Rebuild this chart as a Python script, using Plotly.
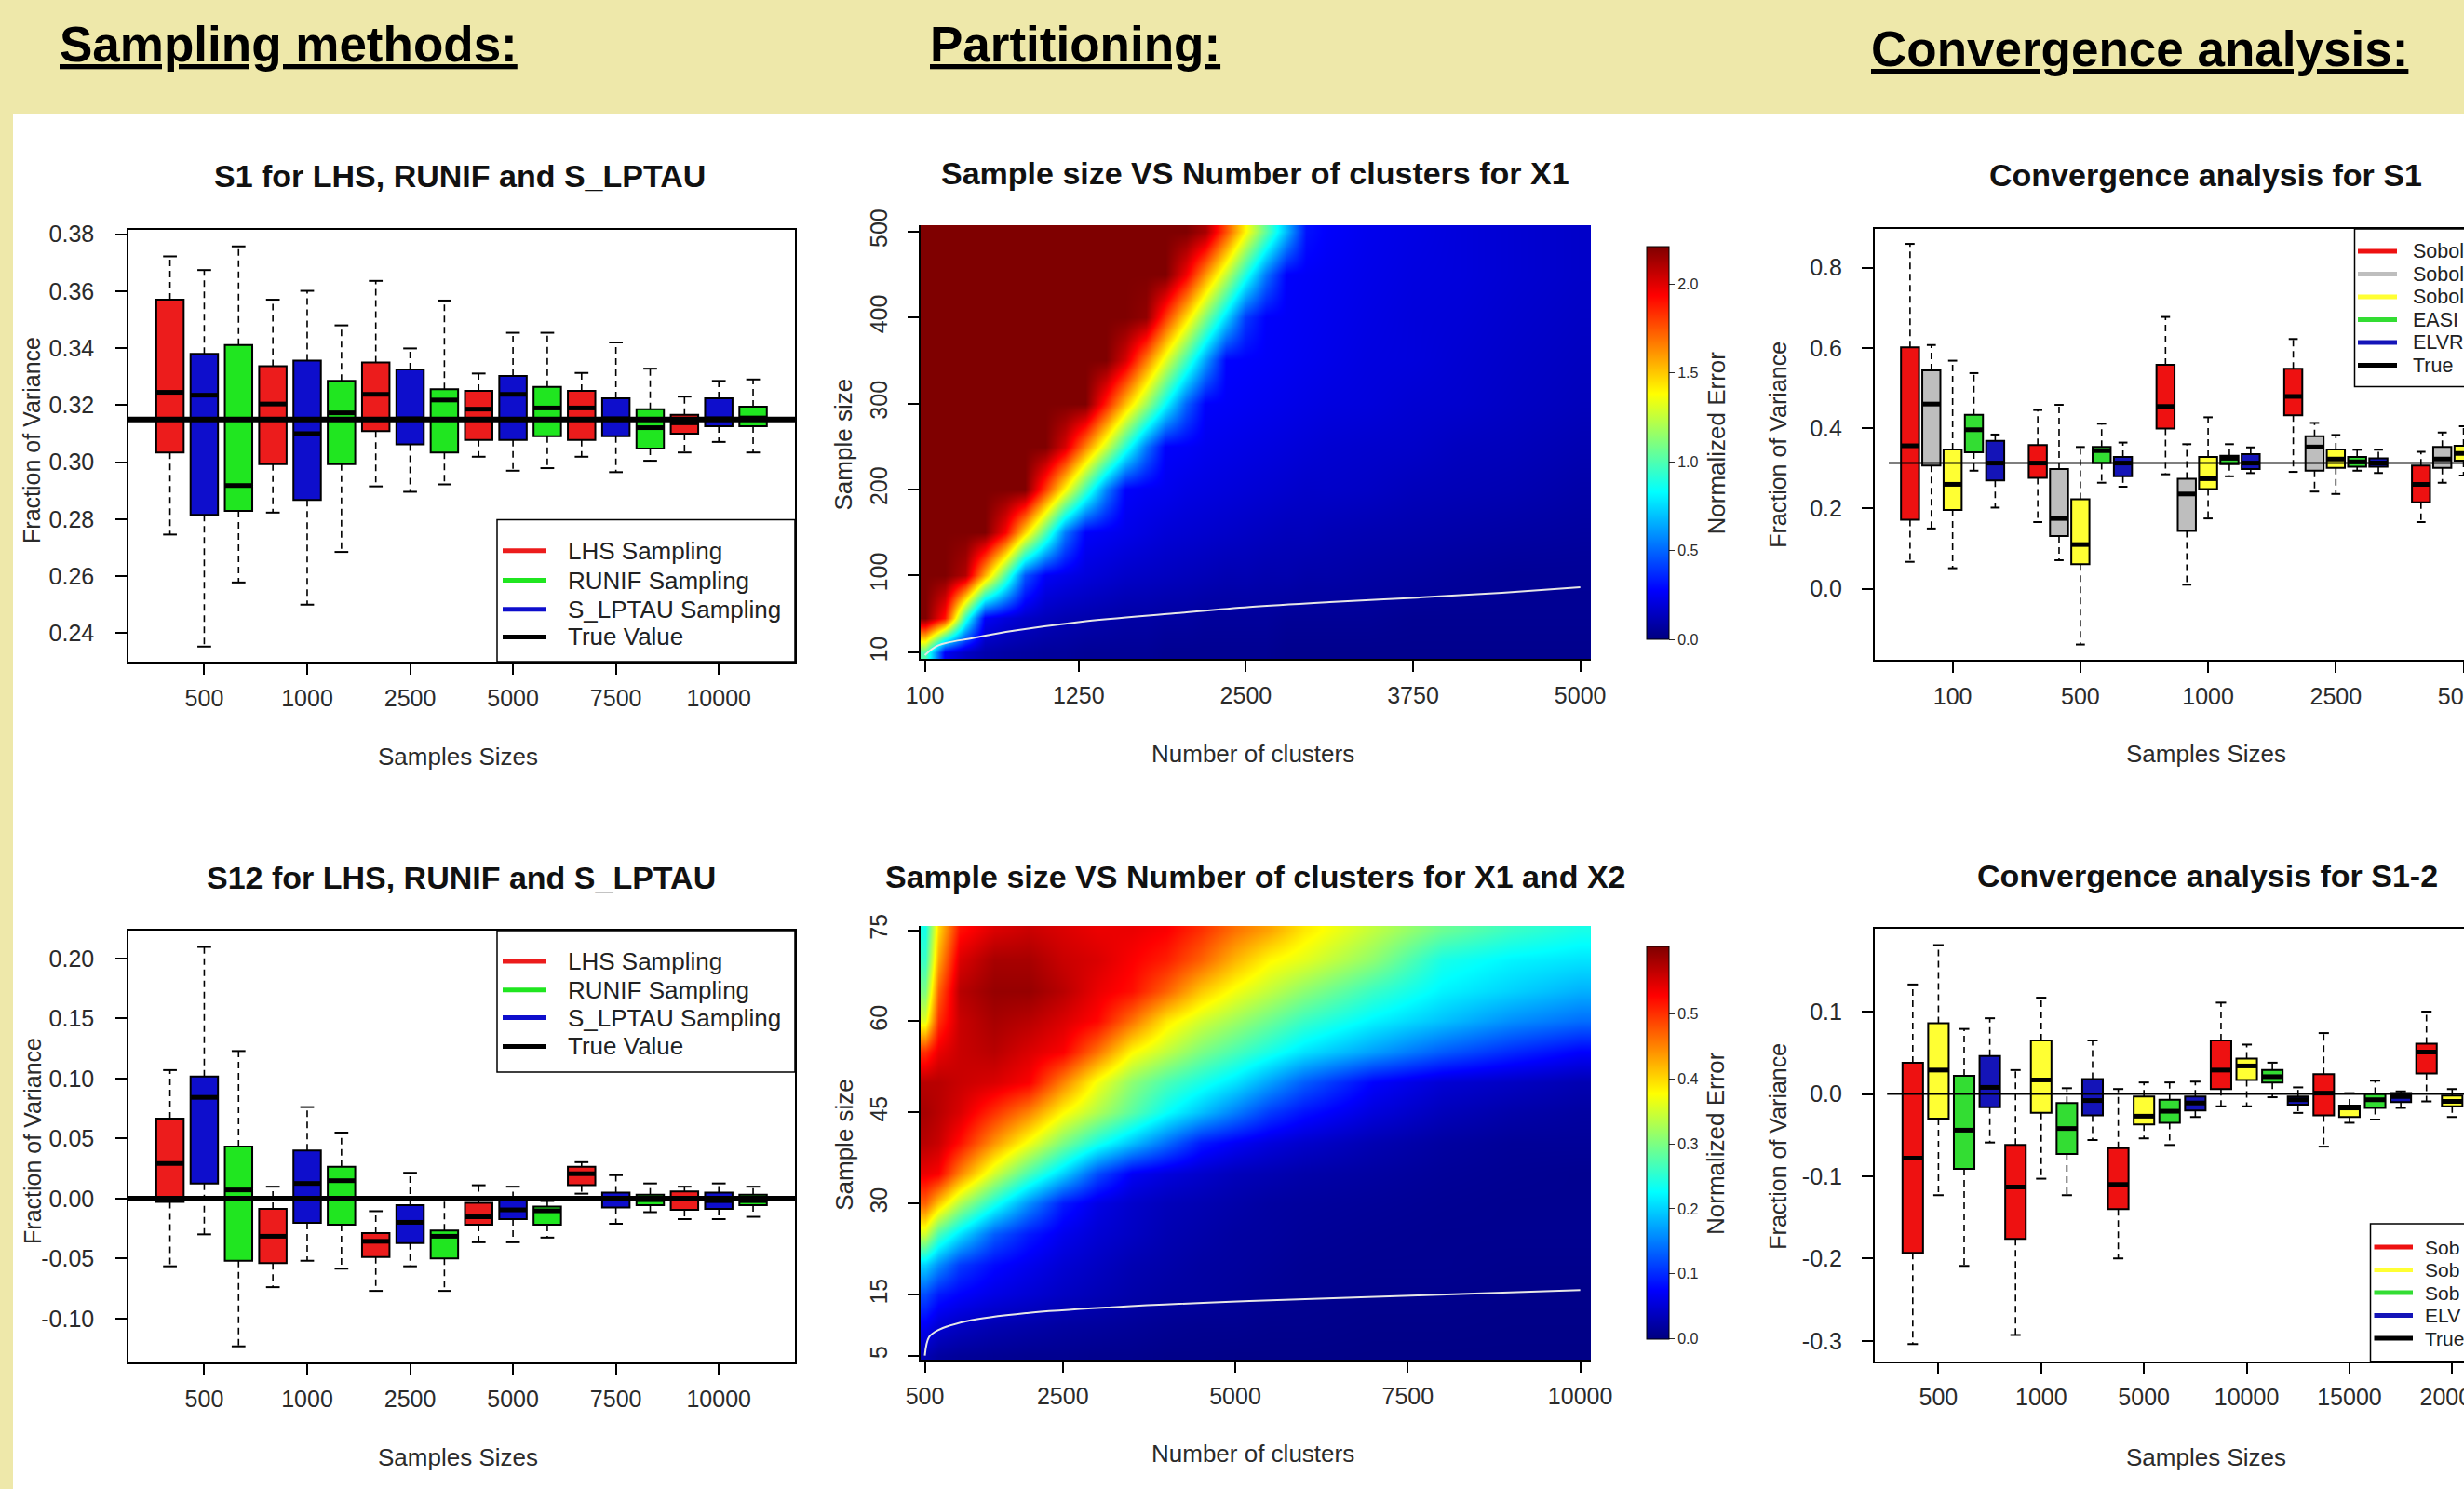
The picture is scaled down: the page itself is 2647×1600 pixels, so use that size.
import plotly.graph_objects as go

W, H = 2647, 1600
FONT = "Liberation Sans, Arial, Helvetica, sans-serif"
BEIGE = "#EEE8AA"
INK = "#2b2b2b"


def px(v):
    return v / W


def py(v):
    return 1 - v / H


# ====================== Sampling methods ======================
samp_sizes = ["500", "1000", "2500", "5000", "7500", "10000"]
samp_series = ["LHS Sampling", "S_LPTAU Sampling", "RUNIF Sampling"]  # order inside a group
samp_fill = ["#EC1C1C", "#0E0ECC", "#20E620"]
legend_samp = ["LHS Sampling", "RUNIF Sampling", "S_LPTAU Sampling", "True Value"]
legend_samp_col = ["#EC1C1C", "#20E620", "#0E0ECC", "#000000"]

# each row: [lower whisker, Q1, median, Q3, upper whisker]
s1_lhs = [
    [0.2746, 0.3034, 0.3245, 0.3570, 0.3722],
    [0.2823, 0.2993, 0.3204, 0.3337, 0.3570],
    [0.2915, 0.3109, 0.3238, 0.3350, 0.3636],
    [0.3019, 0.3078, 0.3186, 0.3250, 0.3311],
    [0.3019, 0.3078, 0.3190, 0.3250, 0.3313],
    [0.3034, 0.3100, 0.3138, 0.3166, 0.3230],
]
s1_lptau = [
    [0.2353, 0.2815, 0.3235, 0.3380, 0.3674],
    [0.2500, 0.2867, 0.3100, 0.3356, 0.3601],
    [0.2896, 0.3062, 0.3152, 0.3325, 0.3399],
    [0.2970, 0.3078, 0.3238, 0.3302, 0.3454],
    [0.2965, 0.3091, 0.3152, 0.3224, 0.3420],
    [0.3071, 0.3126, 0.3152, 0.3224, 0.3285],
]
s1_runif = [
    [0.2578, 0.2829, 0.2918, 0.3411, 0.3757],
    [0.2685, 0.2993, 0.3173, 0.3285, 0.3480],
    [0.2922, 0.3034, 0.3218, 0.3256, 0.3567],
    [0.2979, 0.3091, 0.3190, 0.3264, 0.3454],
    [0.3005, 0.3048, 0.3121, 0.3186, 0.3328],
    [0.3034, 0.3126, 0.3155, 0.3195, 0.3290],
]
s1_true = 0.315
s1_ytick = [0.24, 0.26, 0.28, 0.30, 0.32, 0.34, 0.36, 0.38]
s1_ytext = ["0.24", "0.26", "0.28", "0.30", "0.32", "0.34", "0.36", "0.38"]

s12_lhs = [
    [-0.0564, -0.0028, 0.0292, 0.0666, 0.1070],
    [-0.0738, -0.0537, -0.0314, -0.0086, 0.0099],
    [-0.0769, -0.0487, -0.0356, -0.0287, -0.0105],
    [-0.0364, -0.0217, -0.0152, -0.0036, 0.0111],
    [0.0041, 0.0111, 0.0207, 0.0265, 0.0303],
    [-0.0171, -0.0094, 0.0003, 0.0060, 0.0099],
]
s12_lptau = [
    [-0.0298, 0.0126, 0.0843, 0.1017, 0.2096],
    [-0.0518, -0.0202, 0.0126, 0.0400, 0.0762],
    [-0.0564, -0.0371, -0.0198, -0.0055, 0.0215],
    [-0.0364, -0.0171, -0.0094, 0.0003, 0.0099],
    [-0.0210, -0.0075, 0.0003, 0.0049, 0.0195],
    [-0.0171, -0.0086, -0.0017, 0.0049, 0.0126],
]
s12_runif = [
    [-0.1231, -0.0518, 0.0072, 0.0434, 0.1229],
    [-0.0584, -0.0217, 0.0149, 0.0265, 0.0550],
    [-0.0769, -0.0499, -0.0314, -0.0267, -0.0005],
    [-0.0325, -0.0217, -0.0102, -0.0067, -0.0020],
    [-0.0113, -0.0055, -0.0009, 0.0033, 0.0126],
    [-0.0152, -0.0055, -0.0017, 0.0033, 0.0099],
]
s12_true = 0.0
s12_ytick = [-0.10, -0.05, 0.0, 0.05, 0.10, 0.15, 0.20]
s12_ytext = ["-0.10", "-0.05", "0.00", "0.05", "0.10", "0.15", "0.20"]

# ====================== Partitioning (heatmaps) ======================
hm1_clusters = [100, 250, 400, 550, 700, 850, 1000, 1150, 1300, 1450, 1600, 1750, 1900,
                2050, 2200, 2350, 2500, 2650, 2800, 2950, 3100, 3400, 3750, 4100, 4500, 5000]
hm1_samples = [10, 50, 100, 150, 200, 250, 300, 350, 400, 450, 500]
hm1_error = [
    [1.00, 0.25, 0.15, 0.10, 0.08, 0.07, 0.06, 0.06, 0.05, 0.05, 0.05, 0.05, 0.04, 0.04, 0.04, 0.04, 0.04, 0.04, 0.03, 0.03, 0.03, 0.03, 0.03, 0.03, 0.03, 0.03],
    [2.21, 1.89, 0.93, 0.26, 0.20, 0.16, 0.13, 0.11, 0.10, 0.09, 0.08, 0.08, 0.07, 0.07, 0.06, 0.06, 0.06, 0.06, 0.05, 0.05, 0.05, 0.05, 0.04, 0.04, 0.04, 0.04],
    [2.21, 2.21, 2.10, 1.55, 1.01, 0.46, 0.26, 0.23, 0.20, 0.18, 0.16, 0.15, 0.14, 0.13, 0.12, 0.11, 0.11, 0.10, 0.10, 0.09, 0.09, 0.08, 0.07, 0.06, 0.05, 0.05],
    [2.21, 2.21, 2.21, 2.21, 1.94, 1.47, 1.01, 0.54, 0.27, 0.25, 0.23, 0.21, 0.19, 0.18, 0.17, 0.16, 0.15, 0.14, 0.13, 0.13, 0.12, 0.11, 0.10, 0.09, 0.08, 0.07],
    [2.21, 2.21, 2.21, 2.21, 2.21, 2.21, 1.80, 1.39, 0.97, 0.56, 0.27, 0.25, 0.24, 0.22, 0.21, 0.20, 0.19, 0.18, 0.17, 0.16, 0.16, 0.15, 0.13, 0.12, 0.11, 0.09],
    [2.21, 2.21, 2.21, 2.21, 2.21, 2.21, 2.21, 2.02, 1.65, 1.28, 0.91, 0.54, 0.27, 0.26, 0.24, 0.23, 0.22, 0.21, 0.20, 0.19, 0.18, 0.17, 0.16, 0.14, 0.13, 0.11],
    [2.21, 2.21, 2.21, 2.21, 2.21, 2.21, 2.21, 2.21, 2.21, 1.87, 1.52, 1.18, 0.83, 0.49, 0.27, 0.26, 0.25, 0.24, 0.23, 0.22, 0.21, 0.20, 0.18, 0.17, 0.15, 0.13],
    [2.21, 2.21, 2.21, 2.21, 2.21, 2.21, 2.21, 2.21, 2.21, 2.21, 2.02, 1.67, 1.32, 0.97, 0.62, 0.28, 0.27, 0.26, 0.25, 0.24, 0.23, 0.21, 0.20, 0.18, 0.16, 0.14],
    [2.21, 2.21, 2.21, 2.21, 2.21, 2.21, 2.21, 2.21, 2.21, 2.21, 2.21, 2.17, 1.81, 1.46, 1.11, 0.75, 0.40, 0.27, 0.26, 0.25, 0.24, 0.22, 0.20, 0.19, 0.17, 0.15],
    [2.21, 2.21, 2.21, 2.21, 2.21, 2.21, 2.21, 2.21, 2.21, 2.21, 2.21, 2.21, 2.21, 1.96, 1.61, 1.25, 0.89, 0.53, 0.27, 0.26, 0.25, 0.23, 0.21, 0.20, 0.18, 0.16],
    [2.21, 2.21, 2.21, 2.21, 2.21, 2.21, 2.21, 2.21, 2.21, 2.21, 2.21, 2.21, 2.21, 2.21, 2.12, 1.76, 1.39, 1.03, 0.67, 0.31, 0.27, 0.24, 0.22, 0.20, 0.18, 0.16],
]
hm1_limit_x = [100, 198, 464, 775, 1263, 1973, 2528, 3127, 3784, 4414, 5000]
hm1_limit_y = [7.2, 18.5, 27.2, 35.8, 46.0, 55.9, 63.3, 69.0, 74.2, 79.9, 86.2]
hm1_xtick = [100, 1250, 2500, 3750, 5000]
hm1_ytick = [10, 100, 200, 300, 400, 500]
hm1_cbtick = [0.0, 0.5, 1.0, 1.5, 2.0]
hm1_cbtext = ["0.0", "0.5", "1.0", "1.5", "2.0"]

hm2_clusters = [500, 700, 1000, 1500, 2000, 2500, 3000, 3500, 4000, 4500, 5000, 5500, 6000, 7000, 8000, 9000, 10000]
hm2_samples = [5, 10, 15, 20, 25, 30, 35, 40, 45, 50, 55, 60, 65, 70, 75]
hm2_error = [
    [0.03, 0.02, 0.015, 0.012, 0.01, 0.01, 0.008, 0.008, 0.006, 0.006, 0.005, 0.005, 0.005, 0.004, 0.004, 0.004, 0.004],
    [0.07, 0.05, 0.04, 0.03, 0.025, 0.02, 0.018, 0.015, 0.012, 0.01, 0.01, 0.008, 0.008, 0.006, 0.006, 0.005, 0.005],
    [0.12, 0.09, 0.075, 0.06, 0.05, 0.04, 0.032, 0.025, 0.02, 0.018, 0.015, 0.012, 0.01, 0.008, 0.008, 0.006, 0.006],
    [0.20, 0.16, 0.11, 0.08, 0.065, 0.05, 0.04, 0.03, 0.025, 0.02, 0.018, 0.015, 0.012, 0.01, 0.01, 0.008, 0.008],
    [0.35, 0.27, 0.21, 0.13, 0.09, 0.065, 0.05, 0.04, 0.03, 0.025, 0.02, 0.018, 0.015, 0.012, 0.01, 0.01, 0.01],
    [0.47, 0.41, 0.33, 0.24, 0.16, 0.09, 0.06, 0.045, 0.035, 0.03, 0.025, 0.02, 0.018, 0.015, 0.012, 0.01, 0.01],
    [0.54, 0.53, 0.45, 0.35, 0.27, 0.20, 0.12, 0.07, 0.055, 0.045, 0.035, 0.03, 0.025, 0.02, 0.015, 0.012, 0.01],
    [0.57, 0.56, 0.52, 0.44, 0.37, 0.30, 0.24, 0.19, 0.14, 0.09, 0.07, 0.055, 0.045, 0.03, 0.02, 0.015, 0.015],
    [0.58, 0.57, 0.55, 0.50, 0.45, 0.38, 0.33, 0.28, 0.23, 0.19, 0.15, 0.11, 0.085, 0.055, 0.035, 0.025, 0.02],
    [0.57, 0.57, 0.56, 0.55, 0.53, 0.45, 0.37, 0.31, 0.27, 0.24, 0.21, 0.17, 0.13, 0.075, 0.05, 0.04, 0.03],
    [0.50, 0.54, 0.56, 0.57, 0.55, 0.53, 0.46, 0.38, 0.34, 0.30, 0.27, 0.24, 0.21, 0.17, 0.13, 0.10, 0.075],
    [0.36, 0.50, 0.56, 0.58, 0.57, 0.55, 0.525, 0.46, 0.39, 0.35, 0.32, 0.29, 0.26, 0.22, 0.19, 0.16, 0.14],
    [0.30, 0.47, 0.57, 0.59, 0.59, 0.57, 0.54, 0.52, 0.47, 0.41, 0.37, 0.34, 0.31, 0.26, 0.22, 0.20, 0.18],
    [0.26, 0.43, 0.55, 0.58, 0.58, 0.56, 0.55, 0.53, 0.51, 0.47, 0.42, 0.38, 0.36, 0.31, 0.24, 0.22, 0.21],
    [0.24, 0.40, 0.52, 0.55, 0.56, 0.55, 0.54, 0.54, 0.53, 0.50, 0.46, 0.43, 0.39, 0.34, 0.29, 0.26, 0.24],
]
hm2_limit_x = [500, 561, 690, 1119, 1980, 3271, 5207, 7643, 10000]
hm2_limit_y = [5.0, 8.05, 9.18, 10.7, 12.0, 13.0, 14.0, 14.9, 15.8]
hm2_xtick = [500, 2500, 5000, 7500, 10000]
hm2_ytick = [5, 15, 30, 45, 60, 75]
hm2_cbtick = [0.0, 0.1, 0.2, 0.3, 0.4, 0.5]
hm2_cbtext = ["0.0", "0.1", "0.2", "0.3", "0.4", "0.5"]

JET = [[0.0, "#00007F"], [0.125, "#0000FF"], [0.25, "#007FFF"], [0.375, "#00FFFF"],
       [0.5, "#7FFF7F"], [0.625, "#FFFF00"], [0.75, "#FF7F00"], [0.875, "#FF0000"], [1.0, "#7F0000"]]

# ====================== Convergence analysis ======================
conv1_sizes = ["100", "500", "1000", "2500", "5000"]
conv1_fill = ["#EE1111", "#BEBEBE", "#FFFF33", "#33DD33", "#1414B8"]
# legend labels as far as they are visible on the (cropped) poster
conv1_legend = ["Sobol", "Sobol", "Sobol", "EASI", "ELVR", "True"]
conv1_sobol = [
    [0.067, 0.172, 0.356, 0.601, 0.859],
    [0.166, 0.276, 0.313, 0.358, 0.445],
    [0.285, 0.399, 0.454, 0.558, 0.677],
    [0.291, 0.432, 0.479, 0.548, 0.622],
    [0.166, 0.215, 0.260, 0.307, 0.341],
]
conv1_sobol_b = [
    [0.150, 0.307, 0.460, 0.544, 0.607],
    [0.071, 0.131, 0.175, 0.298, 0.458],
    [0.010, 0.144, 0.236, 0.274, 0.360],
    [0.242, 0.294, 0.353, 0.380, 0.413],
    [0.264, 0.301, 0.323, 0.353, 0.389],
]
conv1_sobol_c = [
    [0.051, 0.196, 0.260, 0.347, 0.568],
    [-0.139, 0.061, 0.110, 0.223, 0.353],
    [0.175, 0.248, 0.274, 0.328, 0.427],
    [0.236, 0.301, 0.323, 0.347, 0.383],
    [0.282, 0.319, 0.337, 0.356, 0.405],
]
conv1_easi = [
    [0.294, 0.340, 0.396, 0.433, 0.537],
    [0.264, 0.313, 0.344, 0.353, 0.411],
    [0.280, 0.310, 0.325, 0.331, 0.360],
    [0.294, 0.304, 0.316, 0.328, 0.346],
]
conv1_elvr = [
    [0.202, 0.270, 0.313, 0.368, 0.384],
    [0.254, 0.280, 0.313, 0.328, 0.364],
    [0.288, 0.298, 0.313, 0.335, 0.352],
    [0.288, 0.304, 0.313, 0.325, 0.346],
]
conv1_true = 0.313
conv1_ytick = [0.0, 0.2, 0.4, 0.6, 0.8]
conv1_ytext = ["0.0", "0.2", "0.4", "0.6", "0.8"]

conv2_sizes = ["500", "1000", "5000", "10000", "15000", "20000"]
conv2_fill = ["#EE1111", "#FFFF33", "#33DD33", "#1414B8"]
conv2_legend = ["Sob", "Sob", "Sob", "ELV", "True"]
conv2_sobol = [
    [-0.304, -0.193, -0.078, 0.038, 0.133],
    [-0.293, -0.176, -0.113, -0.062, 0.029],
    [-0.200, -0.140, -0.110, -0.066, 0.006],
    [-0.015, 0.006, 0.029, 0.065, 0.111],
    [-0.064, -0.026, 0.001, 0.024, 0.074],
    [-0.009, 0.025, 0.051, 0.061, 0.100],
]
conv2_sobol_b = [
    [-0.123, -0.030, 0.029, 0.086, 0.181],
    [-0.103, -0.023, 0.017, 0.065, 0.117],
    [-0.054, -0.037, -0.027, -0.003, 0.014],
    [-0.015, 0.017, 0.034, 0.043, 0.060],
    [-0.035, -0.028, -0.017, -0.014, 0.001],
    [-0.028, -0.015, -0.009, -0.002, 0.006],
]
conv2_sobol_c = [
    [-0.209, -0.091, -0.044, 0.022, 0.079],
    [-0.123, -0.073, -0.042, -0.011, 0.007],
    [-0.062, -0.035, -0.021, -0.007, 0.014],
    [-0.004, 0.014, 0.021, 0.029, 0.038],
    [-0.031, -0.017, -0.007, 0.000, 0.016],
]
conv2_elvr = [
    [-0.059, -0.016, 0.008, 0.046, 0.092],
    [-0.056, -0.026, -0.008, 0.018, 0.065],
    [-0.028, -0.020, -0.011, -0.003, 0.015],
    [-0.023, -0.013, -0.007, -0.003, 0.008],
    [-0.017, -0.010, -0.003, 0.001, 0.003],
]
conv2_true = 0.0
conv2_ytick = [-0.3, -0.2, -0.1, 0.0, 0.1]
conv2_ytext = ["-0.3", "-0.2", "-0.1", "0.0", "0.1"]

# ====================== figure ======================
fig = go.Figure()


def add_boxes(stats, positions, color, width, xa, ya):
    lo = [s[0] for s in stats]
    q1 = [s[1] for s in stats]
    med = [s[2] for s in stats]
    q3 = [s[3] for s in stats]
    hi = [s[4] for s in stats]
    cap = width / 4.0
    half = width / 2.0
    wx, wy, cx, cy, mx, my = [], [], [], [], [], []
    for p, a, b, m, c, d in zip(positions, lo, q1, med, q3, hi):
        wx += [p, p, None, p, p, None]
        wy += [b, a, None, c, d, None]
        cx += [p - cap, p + cap, None, p - cap, p + cap, None]
        cy += [a, a, None, d, d, None]
        mx += [p - half, p + half, None]
        my += [m, m, None]
    fig.add_trace(go.Scatter(x=wx, y=wy, mode="lines", xaxis=xa, yaxis=ya,
                             line=dict(color="black", width=1.6, dash="7px,5px"),
                             hoverinfo="skip", showlegend=False))
    fig.add_trace(go.Scatter(x=cx, y=cy, mode="lines", xaxis=xa, yaxis=ya,
                             line=dict(color="black", width=2),
                             hoverinfo="skip", showlegend=False))
    fig.add_trace(go.Box(x=positions, q1=q1, median=med, q3=q3, lowerfence=q1, upperfence=q3,
                         width=width, fillcolor=color, line=dict(color="black", width=2),
                         whiskerwidth=0, boxpoints=False, xaxis=xa, yaxis=ya,
                         hoverinfo="skip", showlegend=False))
    fig.add_trace(go.Scatter(x=mx, y=my, mode="lines", xaxis=xa, yaxis=ya,
                             line=dict(color="black", width=5),
                             hoverinfo="skip", showlegend=False))


def true_line(value, xr, width, xa, ya):
    fig.add_trace(go.Scatter(x=[xr[0], xr[1]], y=[value, value], mode="lines", xaxis=xa, yaxis=ya,
                             line=dict(color="black", width=width), hoverinfo="skip", showlegend=False))


# ---- panel 1 / 4 : sampling ----
S_XR = [-0.21, 19.22]
samp_step = len(samp_series)
for k, (stats1, stats12) in enumerate([(s1_lhs, s12_lhs), (s1_lptau, s12_lptau), (s1_runif, s12_runif)]):
    pos = [samp_step * g + k + 1 for g in range(len(stats1))]
    add_boxes(stats1, pos, samp_fill[k], 0.8, "x", "y")
    add_boxes(stats12, pos, samp_fill[k], 0.8, "x4", "y4")
true_line(s1_true, S_XR, 6, "x", "y")
true_line(s12_true, S_XR, 6, "x4", "y4")
samp_tickpos = [samp_step * g + 2 for g in range(len(samp_sizes))]

# ---- panel 3 : convergence S1 ----
C1_XR = [-0.67, 27.02]
c1_step = len(conv1_fill) + 1
for k, stats in enumerate([conv1_sobol, conv1_sobol_b, conv1_sobol_c, conv1_easi, conv1_elvr]):
    pos = [c1_step * g + k + 1 for g in range(len(stats))]
    add_boxes(stats, pos, conv1_fill[k], 0.85, "x3", "y3")
true_line(conv1_true, [0.0, C1_XR[1]], 2, "x3", "y3")
c1_tickpos = [c1_step * g + 3 for g in range(len(conv1_sizes))]

# ---- panel 6 : convergence S1-2 ----
C2_XR = [-0.49, 22.46]
c2_step = len(conv2_fill)
for k, stats in enumerate([conv2_sobol, conv2_sobol_b, conv2_sobol_c, conv2_elvr]):
    pos = [c2_step * g + k + 1 for g in range(len(stats))]
    add_boxes(stats, pos, conv2_fill[k], 0.8, "x6", "y6")
true_line(conv2_true, [0.0, C2_XR[1]], 2, "x6", "y6")
c2_tickpos = [c2_step * g + 2 for g in range(len(conv2_sizes))]

# ---- panel 2 / 5 : heatmaps ----
CB_FONT = dict(family=FONT, size=16, color=INK)
fig.add_trace(go.Heatmap(
    x=hm1_clusters, y=hm1_samples, z=hm1_error, colorscale=JET, zmin=0, zmax=2.21,
    zsmooth="best", xaxis="x2", yaxis="y2", hoverinfo="skip",
    colorbar=dict(x=px(1769), xanchor="left", thickness=24, thicknessmode="pixels",
                  len=(687 - 265) / H, lenmode="fraction", y=py(476), yanchor="middle",
                  xpad=0, ypad=0, outlinewidth=1, outlinecolor="black",
                  ticks="outside", ticklen=6, tickcolor=INK, tickmode="array",
                  tickvals=hm1_cbtick, ticktext=hm1_cbtext, tickfont=CB_FONT)))
fig.add_trace(go.Scatter(x=hm1_limit_x, y=hm1_limit_y, mode="lines", xaxis="x2", yaxis="y2",
                         line=dict(color="#E6E6E6", width=2, shape="spline"),
                         hoverinfo="skip", showlegend=False))
fig.add_trace(go.Heatmap(
    x=hm2_clusters, y=hm2_samples, z=hm2_error, colorscale=JET, zmin=0, zmax=0.6036,
    zsmooth="best", xaxis="x5", yaxis="y5", hoverinfo="skip",
    colorbar=dict(x=px(1769), xanchor="left", thickness=24, thicknessmode="pixels",
                  len=(1439 - 1016.5) / H, lenmode="fraction", y=py(1227.75), yanchor="middle",
                  xpad=0, ypad=0, outlinewidth=1, outlinecolor="black",
                  ticks="outside", ticklen=6, tickcolor=INK, tickmode="array",
                  tickvals=hm2_cbtick, ticktext=hm2_cbtext, tickfont=CB_FONT)))
fig.add_trace(go.Scatter(x=hm2_limit_x, y=hm2_limit_y, mode="lines", xaxis="x5", yaxis="y5",
                         line=dict(color="#E6E6E6", width=2, shape="spline"),
                         hoverinfo="skip", showlegend=False))

# ====================== axes ======================
TICKFONT = dict(family=FONT, size=25, color=INK)
X_STANDOFF = 4


def axis(dom, rng, anchor, tickvals, ticktext=None, mirror=True, angle=0, standoff=X_STANDOFF, overflow=None):
    d = dict(domain=dom, range=rng, anchor=anchor, showline=True, linecolor="black", linewidth=1.5,
             mirror=mirror, ticks="outside", ticklen=12, tickwidth=1.5, tickcolor="black",
             tickmode="array", tickvals=tickvals, tickfont=TICKFONT, showgrid=False,
             zeroline=False, fixedrange=True, tickangle=angle, ticklabelstandoff=standoff,
             automargin=False)
    if ticktext is not None:
        d["ticktext"] = ticktext
    if overflow is not None:
        d["ticklabeloverflow"] = overflow
    return d


def xdom(a, b):
    return [px(a), min(1.0, px(b))]


def ydom(top, bottom):
    return [py(bottom), py(top)]


layout_axes = dict(
    xaxis=axis(xdom(138, 854), S_XR, "y", samp_tickpos, samp_sizes),
    yaxis=axis(ydom(247, 711), [0.2300, 0.3815], "x", s1_ytick, s1_ytext, standoff=18),
    xaxis4=axis(xdom(138, 854), S_XR, "y4", samp_tickpos, samp_sizes),
    yaxis4=axis(ydom(1000, 1464), [-0.1365, 0.2232], "x4", s12_ytick, s12_ytext, standoff=18),
    xaxis2=axis(xdom(989, 1709), [68.7, 5079], "y2", hm1_xtick, [str(v) for v in hm1_xtick], mirror=False),
    yaxis2=axis(ydom(242, 708), [2.9, 507.4], "x2", hm1_ytick, [str(v) for v in hm1_ytick],
                mirror=False, angle=-90, standoff=12),
    xaxis5=axis(xdom(989, 1709), [439.3, 10153.8], "y5", hm2_xtick, [str(v) for v in hm2_xtick], mirror=False),
    yaxis5=axis(ydom(995, 1461), [4.34, 75.69], "x5", hm2_ytick, [str(v) for v in hm2_ytick],
                mirror=False, angle=-90, standoff=12),
    xaxis3=axis(xdom(2013.7, W), C1_XR, "y3", c1_tickpos, conv1_sizes, overflow="allow"),
    yaxis3=axis(ydom(246, 709), [-0.1771, 0.8962], "x3", conv1_ytick, conv1_ytext, mirror=False, standoff=16),
    xaxis6=axis(xdom(2013.7, W), C2_XR, "y6", c2_tickpos, conv2_sizes, overflow="allow"),
    yaxis6=axis(ydom(997.6, 1462.7), [-0.3248, 0.2012], "x6", conv2_ytick, conv2_ytext, mirror=False, standoff=16),
)

# ====================== decorations ======================
shapes = [
    dict(type="rect", xref="paper", yref="paper", x0=px(14), x1=1.0, y0=0.0, y1=py(122),
         fillcolor="white", line=dict(width=0), layer="below"),
]
annotations = []


def text(x, y, s, size, color="#111111", xanchor="center", angle=0, yanchor="middle"):
    annotations.append(dict(x=px(x), y=py(y), xref="paper", yref="paper", text=s, showarrow=False,
                            xanchor=xanchor, yanchor=yanchor, textangle=angle,
                            font=dict(family=FONT, size=size, color=color)))


# section headers
text(62, 47.8, "<b><u>Sampling methods:</u></b>", 53, "#000000", xanchor="left")
text(996.7, 47.8, "<b><u>Partitioning:</u></b>", 53, "#000000", xanchor="left")
text(2007.6, 53.0, "<b><u>Convergence analysis:</u></b>", 53, "#000000", xanchor="left")

# panel titles
text(493.5, 189, "<b>S1 for LHS, RUNIF and S_LPTAU</b>", 34)
text(495, 943, "<b>S12 for LHS, RUNIF and S_LPTAU</b>", 34)
text(1348, 186, "<b>Sample size VS Number of clusters for X1</b>", 34)
text(1348, 942, "<b>Sample size VS Number of clusters for X1 and X2</b>", 34)
text(2369.5, 188, "<b>Convergence analysis for S1</b>", 34)
text(2371, 941, "<b>Convergence analysis for S1-2</b>", 34)

# axis titles
text(492, 812.6, "Samples Sizes", 26, INK)
text(492, 1566, "Samples Sizes", 26, INK)
text(34.4, 472.5, "Fraction of Variance", 25, INK, angle=-90)
text(34.4, 1225.5, "Fraction of Variance", 25, INK, angle=-90)
text(1345.6, 810, "Number of clusters", 26, INK)
text(1345.6, 1562, "Number of clusters", 26, INK)
text(905.5, 478, "Sample size", 26, INK, angle=-90)
text(906.8, 1230, "Sample size", 26, INK, angle=-90)
text(1843, 476.5, "Normalized Error", 26, INK, angle=-90)
text(1843, 1229, "Normalized Error", 26, INK, angle=-90)
text(2369.6, 810, "Samples Sizes", 26, INK)
text(2369.6, 1566, "Samples Sizes", 26, INK)
text(1910, 477.8, "Fraction of Variance", 25, INK, angle=-90)
text(1910, 1231.7, "Fraction of Variance", 25, INK, angle=-90)


def legend(box, key_x, text_x, ys, labels, colors, size):
    x0, y0, x1, y1 = box
    shapes.append(dict(type="rect", xref="paper", yref="paper", x0=px(x0), x1=px(x1),
                       y0=py(y1), y1=py(y0), fillcolor="white",
                       line=dict(color="black", width=1.5), layer="above"))
    for y, lab, col in zip(ys, labels, colors):
        shapes.append(dict(type="line", xref="paper", yref="paper", x0=px(key_x[0]), x1=px(key_x[1]),
                           y0=py(y), y1=py(y), line=dict(color=col, width=5), layer="above"))
        text(text_x, y, lab, size, "#222222", xanchor="left")


legend((534, 558.5, 854, 711), (540, 587), 608, [591.8, 623.6, 654.8, 684.5],
       legend_samp, legend_samp_col, 26)
legend((534, 1000, 854, 1152), (540, 587), 608, [1032.9, 1063.7, 1093.6, 1124.4],
       legend_samp, legend_samp_col, 26)
legend((2529.5, 246, 2720, 415.5), (2533, 2575), 2590, [270, 294.5, 319, 343.5, 368, 392.5],
       conv1_legend, conv1_fill + ["#000000"], 21.5)
legend((2546.5, 1315, 2720, 1462.7), (2550.5, 2592), 2603, [1340, 1364.5, 1389, 1413.5, 1438],
       conv2_legend, conv2_fill + ["#000000"], 21)

fig.update_layout(
    width=W, height=H, margin=dict(l=0, r=0, t=0, b=0, pad=0, autoexpand=False),
    paper_bgcolor=BEIGE, plot_bgcolor="white", showlegend=False,
    font=dict(family=FONT, color=INK), shapes=shapes, annotations=annotations,
    **layout_axes,
)

NO_MARGIN_JS = ("document.documentElement.style.margin='0';document.body.style.margin='0';"
                "document.body.style.padding='0';document.documentElement.style.overflow='hidden';"
                "document.body.style.overflow='hidden';")
fig.write_html("out.html", include_plotlyjs=True, full_html=True,
               config={"displayModeBar": False}, post_script=NO_MARGIN_JS)
